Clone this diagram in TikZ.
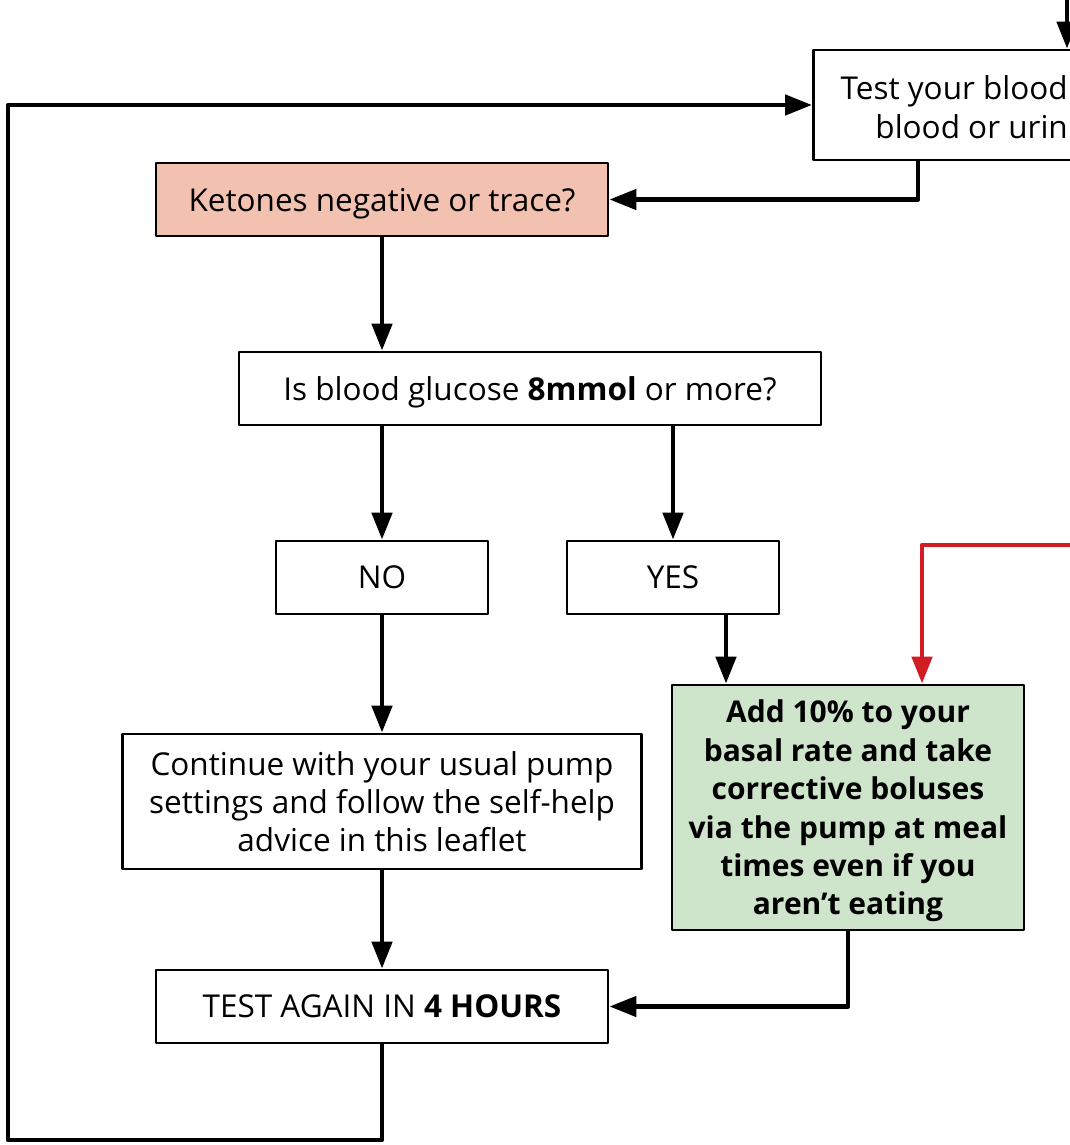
\documentclass[tikz,border=0pt]{standalone}
\usepackage{fontspec}
\setmainfont{Open Sans}
\usepackage{tikz}
\usetikzlibrary{positioning}
\usetikzlibrary{arrows.meta}
\definecolor{ketonefill}{RGB}{242,193,175}
\definecolor{actionfill}{RGB}{207,229,203}
\definecolor{alertred}{RGB}{210,28,36}

\begin{document}
\begin{tikzpicture}[line cap=butt,line join=round,x=1pt,y=-1pt,
  box/.style={draw=black,line width=2.8pt,minimum height=73pt,inner sep=0pt,
    text depth=0pt,align=center,font=\fontsize{31.5}{38.4}\selectfont},
  flow/.style={line width=4.8pt,-{Triangle[length=27pt,width=20pt]}},
  redflow/.style={flow,draw=alertred,-{Triangle[length=27pt,width=20pt,fill=alertred]}}]
\useasboundingbox (0,0) rectangle (1070,1145);
\clip (0,0) rectangle (1070,1145);
% boxes
\node[box,minimum width=400pt,minimum height=110pt,anchor=west] (test) at (812,105) {};
\node[anchor=east,align=right,inner sep=0pt,font=\fontsize{31.5}{38.4}\selectfont] (testtxt) at (1068,107) {Test your blood\\blood or urin};
\node[box,fill=ketonefill,minimum width=452pt] (keto) at (382,199.5) {Ketones negative or trace?};
\node[box,minimum width=582pt] (gluc) at (530,388.5) {Is blood glucose \textbf{8mmol} or more?};
\node[box,minimum width=212pt] (no) at (382,577.5) {NO};
\node[box,minimum width=212pt] (yes) at (673,577.5) {YES};
\node[box,minimum width=519pt,minimum height=135pt] (cont) at (382,801.5) {Continue with your usual pump\\settings and follow the self-help\\advice in this leaflet};
\node[box,fill=actionfill,minimum width=352pt,minimum height=245pt,font=\fontsize{30}{38.4}\selectfont\bfseries] (add) at (848,807.5) {Add 10\% to your\\basal rate and take\\corrective boluses\\via the pump at meal\\times even if you\\aren’t eating};
\node[box,minimum width=452pt] (again) at (382,1006.5) {TEST AGAIN IN \textbf{4 HOURS}};
% free ends
\coordinate (topin) at (1067,-20);
\coordinate (redin) at (1100,545);
\coordinate (redx) at (922,545);
\coordinate (loopb) at (8,1140);
% connectors
\draw[flow] (topin) -- (topin |- test.north);
\draw[flow] (test.south -| 918,0) |- (keto.east);
\draw[flow] (keto.south) -- (keto.south |- gluc.north);
\draw[flow] (no.north |- gluc.south) -- (no.north);
\draw[flow] (yes.north |- gluc.south) -- (yes.north);
\draw[flow] (no.south) -- (cont.north);
\draw[flow] (yes.south -| 726,0) -- (add.north -| 726,0);
\draw[redflow] (redin) -- (redx) -- (redx |- add.north);
\draw[flow] (cont.south) -- (again.north);
\draw[flow] (add.south) |- (again.east);
\draw[flow] (again.south) |- (loopb) |- (test.west);
\end{tikzpicture}
\end{document}
